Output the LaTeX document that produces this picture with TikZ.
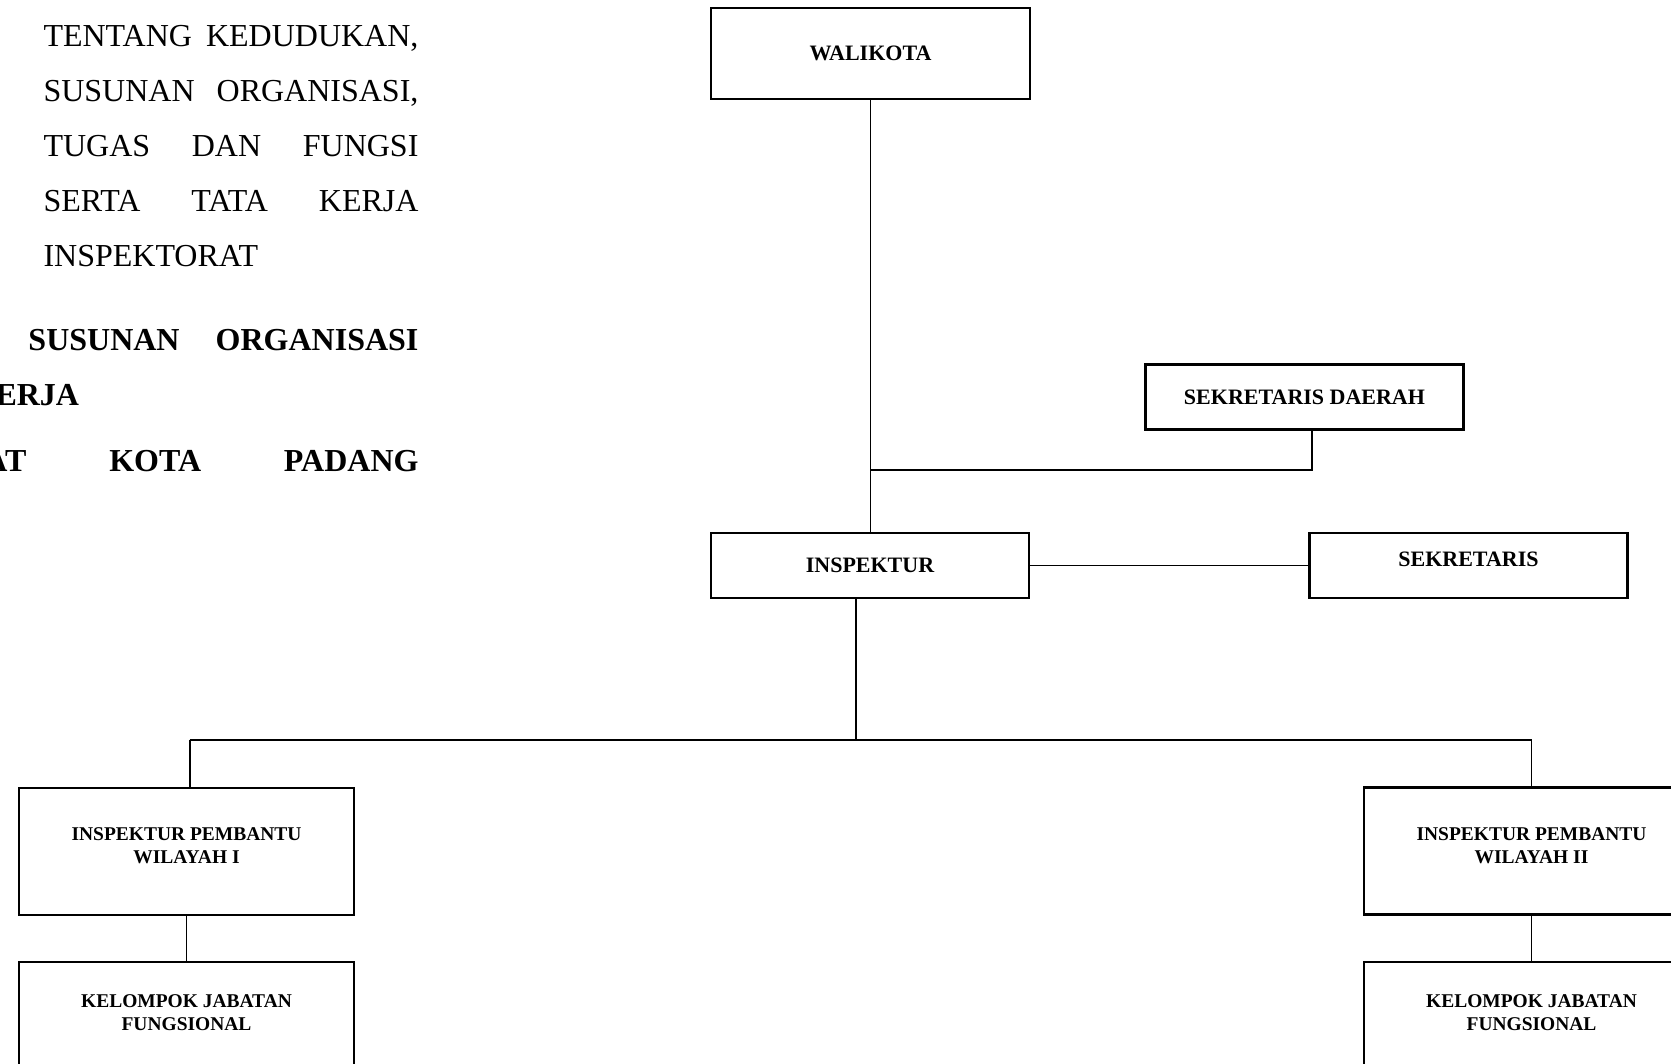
\documentclass[tikz,border=0pt]{standalone}
\usepackage{fontspec}
\setmainfont{Liberation Serif}

\tikzset{every picture/.style={line width=0.75pt}}
\tikzset{
	orgbox/.style={draw, line width=1.9pt, inner sep=0pt, align=center, font=\bfseries\fontsize{16.5pt}{19pt}\selectfont},
	lowbox/.style={draw, line width=1.9pt, inner sep=0pt, minimum width=251.25pt, minimum height=95.25pt},
	lowtext/.style={inner sep=0pt, align=center, font=\bfseries\fontsize{14.6pt}{17.25pt}\selectfont},
	conn/.style={line width=1.3pt},
	headtext/.style={anchor=base west, inner sep=0pt, font=\fontsize{24pt}{28pt}\selectfont},
	headbold/.style={headtext, font=\bfseries\fontsize{24pt}{28pt}\selectfont}
}

\begin{document}
\begin{tikzpicture}[x=0.75pt,y=0.75pt,yscale=-1,xscale=1]
	\useasboundingbox (0,0) rectangle (1671,1064);
	\clip (0,0) rectangle (1671,1064);
	
	% Text Node
	\node [headtext] (t1) at (43,46.7) {\makebox[281.25pt][s]{TENTANG KEDUDUKAN,}};
	% Text Node
	\node [headtext] (t2) at (43,101.7) {\makebox[281.25pt][s]{SUSUNAN ORGANISASI,}};
	% Text Node
	\node [headtext] (t3) at (43,156.7) {\makebox[281.25pt][s]{TUGAS DAN FUNGSI}};
	% Text Node
	\node [headtext] (t4) at (43,211.7) {\makebox[281.25pt][s]{SERTA TATA KERJA}};
	% Text Node
	\node [headtext] (t5) at (43,266.7) {INSPEKTORAT};
	% Text Node
	\node [headbold] (b1) at (28,350) {\makebox[292.5pt][s]{SUSUNAN ORGANISASI}};
	% Text Node
	\node [headbold] (b2) at (-5,405) {ERJA};
	% Text Node
	\node [headbold] (b3) at (-16,471.7) {\makebox[325.5pt][s]{AT KOTA PADANG}};
	
	%Shape: Rectangle
	\node [orgbox, minimum width=239.25pt, minimum height=68.25pt] (wal) at (870.5,53.5) {WALIKOTA};
	%Shape: Rectangle
	\node [orgbox, minimum width=238.5pt, minimum height=48.75pt] (sekda) at (1304.5,397) {SEKRETARIS DAERAH};
	%Shape: Rectangle
	\node [orgbox, minimum width=238.5pt, minimum height=48.75pt] (insp) at (870,565.5) {INSPEKTUR};
	%Shape: Rectangle
	\node [orgbox, minimum width=238.5pt, minimum height=48.75pt] (sek) at (1468.5,565.5) {\raisebox{8.8pt}{SEKRETARIS}};
	%Shape: Rectangle
	\node [lowbox] (ipa) at (186.5,851.5) {};
	\node [lowtext] (ipa-t) at ([yshift=-4pt]ipa.center) {INSPEKTUR PEMBANTU\\WILAYAH I};
	%Shape: Rectangle
	\node [lowbox] (ipb) at (1531.5,851) {};
	\node [lowtext] (ipb-t) at ([yshift=-4pt]ipb.center) {INSPEKTUR PEMBANTU\\WILAYAH II};
	%Shape: Rectangle
	\node [lowbox] (kja) at (186.5,1025.5) {};
	\node [lowtext] (kja-t) at ([yshift=-9.6pt]kja.center) {KELOMPOK JABATAN\\FUNGSIONAL};
	%Shape: Rectangle
	\node [lowbox] (kjb) at (1531.5,1025.5) {};
	\node [lowtext] (kjb-t) at ([yshift=-9.6pt]kjb.center) {KELOMPOK JABATAN\\FUNGSIONAL};
	
	\coordinate (jsek) at (wal.south |- 0,470);
	\coordinate (busl) at ([xshift=2.4pt]ipa.north |- 0,740);
	\coordinate (busr) at (ipb.north |- 0,740);
	\coordinate (insb) at ([xshift=-10.5pt]insp.south);
	
	% Connection
	\draw [conn] (wal.south) -- (wal.south |- insp.north);
	% Connection
	\draw [conn] ([xshift=5.6pt]sekda.south) |- (jsek);
	% Connection
	\draw [conn] (insp.east) -- (sek.west);
	% Connection
	\draw [conn] (insb) -- (insb |- busl);
	\draw [conn] (busl) -- (busr);
	% Connection
	\draw [conn] (busl) -- (busl |- ipa.north);
	\draw [conn] (busr) -- (ipb.north);
	% Connection
	\draw [conn] (ipa.south) -- (kja.north);
	\draw [conn] (ipb.south) -- (kjb.north);
	
\end{tikzpicture}
\end{document}
